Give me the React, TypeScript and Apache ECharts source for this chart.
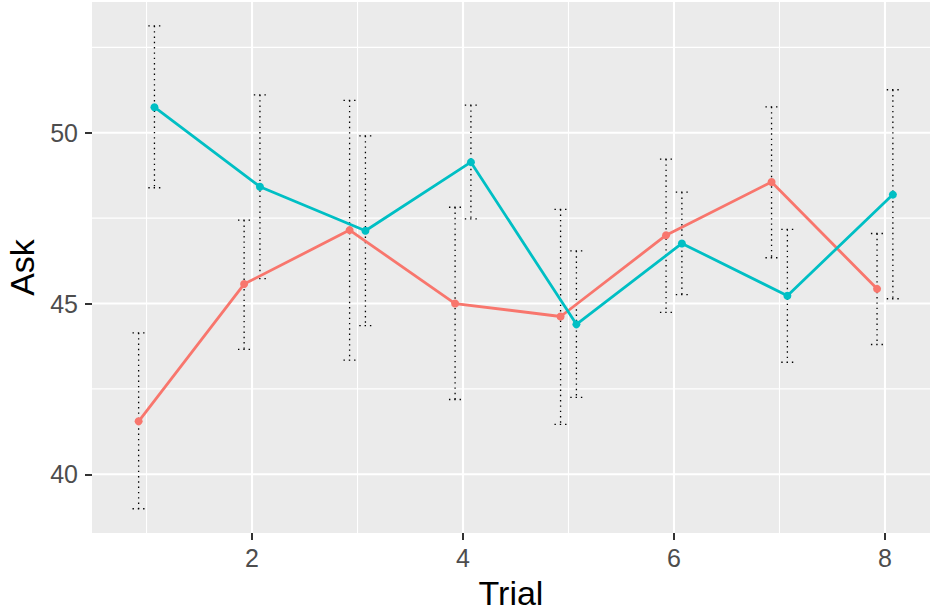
import React, { useEffect, useRef } from "react";
import * as echarts from "echarts";

const trials = [1, 2, 3, 4, 5, 6, 7, 8];
const redMean = [41.55, 45.57, 47.15, 45.0, 44.62, 47.0, 48.56, 45.43];
const redLow = [38.99, 43.66, 43.34, 42.19, 41.46, 44.74, 46.34, 43.8];
const redHigh = [44.14, 47.44, 50.95, 47.82, 47.76, 49.23, 50.76, 47.05];
const tealMean = [50.75, 48.42, 47.13, 49.14, 44.39, 46.76, 45.23, 48.19];
const tealLow = [48.39, 45.73, 44.35, 47.48, 42.25, 45.26, 43.28, 45.14];
const tealHigh = [53.13, 51.11, 49.91, 50.81, 46.54, 48.26, 47.17, 51.26];

const xTicks = [2, 4, 6, 8];
const xMinor = [1, 3, 5, 7];
const yTicks = [40, 45, 50];
const yMinor = [42.5, 47.5, 52.5];

const X_MIN = 0.483;
const X_MAX = 8.427;
const Y_MIN = 38.28;
const Y_MAX = 53.83;
const DODGE = 0.075;
const CAP = 0.116;
const FONT = "'Liberation Sans', Arial, sans-serif";

export default function App() {
  const ref = useRef<HTMLDivElement>(null);
  useEffect(() => {
    if (!ref.current) return;
    const chart = echarts.init(ref.current, null, { renderer: "svg" });

    const vLines = [
      ...xTicks.map((v) => [v, Y_MIN, 1]),
      ...xMinor.map((v) => [v, Y_MIN, 0]),
    ];
    const hLines = [
      ...yTicks.map((v) => [X_MIN, v, 1]),
      ...yMinor.map((v) => [X_MIN, v, 0]),
    ];

    const errSeries = (low: number[], high: number[], off: number) => ({
      type: "custom",
      z: 3,
      silent: true,
      encode: { x: 0, y: [1, 2] },
      data: trials.map((t, i) => [t + off, low[i], high[i]]),
      renderItem: (params: any, api: any) => {
        const x = api.value(0);
        const lo = api.coord([x, api.value(1)]);
        const hi = api.coord([x, api.value(2)]);
        const half = api.size([CAP, 0])[0] / 2;
        const style = { stroke: "#000", lineWidth: 1.3, lineDash: [1.4, 3.9], fill: null };
        return {
          type: "group",
          children: [
            { type: "line", shape: { x1: hi[0], y1: hi[1], x2: lo[0], y2: lo[1] }, style },
            { type: "line", shape: { x1: hi[0] - half, y1: hi[1], x2: hi[0] + half, y2: hi[1] }, style },
            { type: "line", shape: { x1: lo[0] - half, y1: lo[1], x2: lo[0] + half, y2: lo[1] }, style },
          ],
        };
      },
    });

    const lineSeries = (name: string, mean: number[], off: number, color: string) => ({
      type: "line",
      name,
      z: 5,
      data: trials.map((t, i) => [t + off, mean[i]]),
      symbol: "circle",
      symbolSize: 8,
      showSymbol: true,
      lineStyle: { width: 2.8, color },
      itemStyle: { color },
    });

    chart.setOption({
      animation: false,
      backgroundColor: "#fff",
      grid: {
        left: 92,
        right: 0,
        top: 2,
        bottom: 79,
        show: true,
        backgroundColor: "#EBEBEB",
        borderWidth: 0,
        containLabel: false,
        outerBoundsMode: "none",
      },
      xAxis: {
        type: "value",
        min: X_MIN,
        max: X_MAX,
        splitLine: { show: false },
        axisLine: { show: false },
        axisTick: {
          show: true,
          customValues: xTicks,
          length: 7,
          lineStyle: { color: "#333", width: 2 },
        },
        axisLabel: {
          customValues: xTicks,
          color: "#4D4D4D",
          fontSize: 25,
          fontFamily: FONT,
          margin: 12,
        },
        name: "Trial",
        nameLocation: "middle",
        nameGap: 43,
        nameTextStyle: { color: "#000", fontSize: 34, fontFamily: FONT },
      },
      yAxis: {
        type: "value",
        min: Y_MIN,
        max: Y_MAX,
        splitLine: { show: false },
        axisLine: { show: false },
        axisTick: {
          show: true,
          customValues: yTicks,
          length: 7,
          lineStyle: { color: "#333", width: 2 },
        },
        axisLabel: {
          customValues: yTicks,
          color: "#4D4D4D",
          fontSize: 25,
          fontFamily: FONT,
          margin: 14,
        },
        name: "Ask",
        nameLocation: "middle",
        nameGap: 52,
        nameRotate: 90,
        nameTextStyle: { color: "#000", fontSize: 34, fontFamily: FONT },
      },
      series: [
        {
          type: "custom",
          z: 1,
          silent: true,
          encode: { x: 0, y: 1 },
          data: vLines,
          renderItem: (params: any, api: any) => {
            const cs = params.coordSys;
            const p = api.coord([api.value(0), Y_MIN]);
            return {
              type: "line",
              shape: { x1: p[0], y1: cs.y, x2: p[0], y2: cs.y + cs.height },
              style: { stroke: "#fff", lineWidth: api.value(2) ? 2.1 : 1.1 },
            };
          },
        },
        {
          type: "custom",
          z: 1,
          silent: true,
          encode: { x: 0, y: 1 },
          data: hLines,
          renderItem: (params: any, api: any) => {
            const cs = params.coordSys;
            const p = api.coord([X_MIN, api.value(1)]);
            return {
              type: "line",
              shape: { x1: cs.x, y1: p[1], x2: cs.x + cs.width, y2: p[1] },
              style: { stroke: "#fff", lineWidth: api.value(2) ? 2.1 : 1.1 },
            };
          },
        },
        errSeries(redLow, redHigh, -DODGE),
        errSeries(tealLow, tealHigh, DODGE),
        lineSeries("A", redMean, -DODGE, "#F8766D"),
        lineSeries("B", tealMean, DODGE, "#00BFC4"),
      ],
    });
    return () => chart.dispose();
  }, []);
  return (
    <div
      ref={ref}
      style={{ position: "absolute", left: 0, top: 0, width: 930, height: 612 }}
    />
  );
}
